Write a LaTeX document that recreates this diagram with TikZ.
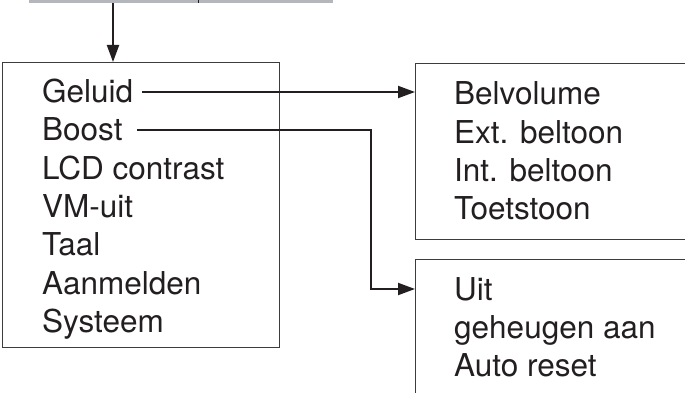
\documentclass[tikz,border=0pt]{standalone}
\usepackage{fontspec}
\setmainfont{TeX Gyre Heros}
\usetikzlibrary{arrows.meta}
\definecolor{ink}{HTML}{231F20}
\definecolor{barg}{HTML}{B3B6BA}
\definecolor{frame}{HTML}{3C3C3C}
\begin{document}
\begin{tikzpicture}[x=1pt,y=-1pt,
  menu/.style={draw=frame,line width=1.3pt,inner sep=0pt,anchor=north west},
  item/.style={anchor=base west,inner xsep=0pt,inner ysep=0pt,text height=22pt,text depth=0pt,font=\fontsize{31.5}{38}\selectfont,text=ink},
  conn/.style={draw=ink,line width=2pt,-{Triangle[length=17pt,width=12pt]}},
  ]
\useasboundingbox (0,0) rectangle (685,393);
% cut-off box above
\node[fill=barg,inner sep=0pt,anchor=south west,minimum width=304pt,minimum height=14pt] (topbar) at (29,3) {};
\coordinate (tick) at (198,0);
\draw[ink,line width=1pt] (tick) -- (topbar.south -| tick);
% boxes
\node[menu,minimum width=277pt,minimum height=285pt] (mainbox) at (2,62) {};
\node[menu,minimum width=300pt,minimum height=176pt] (belbox) at (415,63) {};
\node[menu,minimum width=300pt,minimum height=160pt] (boostbox) at (415,259) {};
% main menu items
\node[item] (geluid) at (42,103) {Geluid};
\node[item] (boost) at (42,141) {Boost};
\node[item] (lcd) at (42,179) {LCD contrast};
\node[item] (vm) at (42,217) {VM-uit};
\node[item] (taal) at (42,255) {Taal};
\node[item] (aanm) at (42,294) {Aanmelden};
\node[item] (sys) at (42,332) {Systeem};
% geluid submenu
\node[item] (belv) at (454,105) {Belvolume};
\node[item] (ext) at (454,143) {Ext. beltoon};
\node[item] (int) at (454,181) {Int. beltoon};
\node[item] (toets) at (454,219) {Toetstoon};
% boost submenu
\node[item] (uit) at (454,300) {Uit};
\node[item] (geh) at (454,338) {geheugen aan};
\node[item] (auto) at (454,376) {Auto reset};
% connectors
\coordinate (down) at (113,0);
\draw[conn] (topbar.south -| down) -- (down |- mainbox.north);
\draw[conn] ([xshift=9pt]geluid.east) -- (geluid.east -| belbox.west);
\coordinate (bend) at (371,0);
\draw[conn] ([xshift=14pt]boost.east) -- (bend |- boost.east) -- (bend |- uit.east) -- (uit.east -| boostbox.west);
\end{tikzpicture}
\end{document}
